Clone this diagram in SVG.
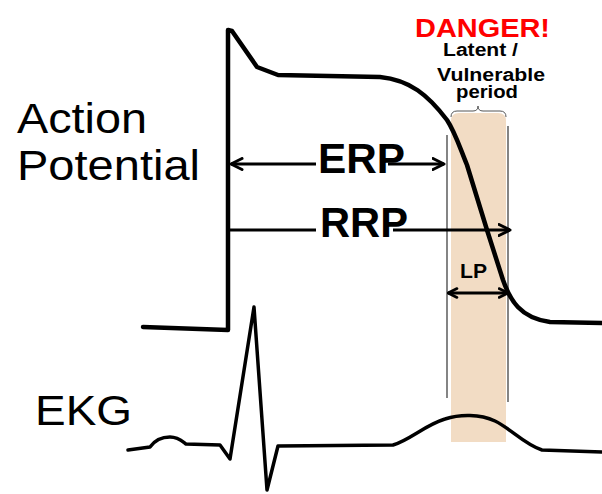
<svg xmlns="http://www.w3.org/2000/svg" width="602" height="494" viewBox="0 0 602 494">
<style>
text{font-family:"Liberation Sans",Arial,sans-serif;fill:#000}
.lbl{font-size:43px}
.big{font-size:42px;font-weight:bold}
.sm{font-size:18px;font-weight:bold}
.trace{fill:none;stroke:#000;stroke-linejoin:round;stroke-linecap:round}
.arr{fill:none;stroke:#000;stroke-width:3}
.guide{stroke:#333;stroke-width:1.2;fill:none}
</style>
<defs>
<marker id="chev" viewBox="0 0 14 14" refX="12.5" refY="7" markerWidth="14" markerHeight="14" markerUnits="userSpaceOnUse" orient="auto-start-reverse">
<path d="M1.5,1.5 L12.5,7 L1.5,12.5" fill="none" stroke="#000" stroke-width="3" stroke-linecap="round" stroke-linejoin="round"/>
</marker>
<marker id="chevs" viewBox="0 0 12 12" refX="10.5" refY="6" markerWidth="12" markerHeight="12" markerUnits="userSpaceOnUse" orient="auto-start-reverse">
<path d="M1.5,1.5 L10.5,6 L1.5,10.5" fill="none" stroke="#000" stroke-width="2.6" stroke-linecap="round" stroke-linejoin="round"/>
</marker>
</defs>
<rect width="602" height="494" fill="#fff"/>
<g id="vulnerable-band">
<path d="M451,442 L451,121 Q451,113 459,113 L498,113 Q506,113 506,121 L506,442 Z" fill="#f2dcc4"/>
<path d="M451,117 Q451,111 457,111 L473,111 Q478,111 478,106 Q478,111 483,111 L500,111 Q506,111 506,117" fill="none" stroke="#555" stroke-width="1"/>
<line class="guide" x1="447" y1="135" x2="447" y2="398"/>
<line class="guide" x1="508" y1="126" x2="508" y2="402"/>
</g>
<g id="action-potential">
<path class="trace" stroke-width="4.5" d="M143,327 L228,330 L228,30 L232,31 L257,67 L278,75 L380,77 C410,80 428,95 447,120 C455,132 460,148 467,165 L487,230 L503,280 C510,300 520,318 550,322 L602,323"/>
</g>
<g id="ekg">
<path class="trace" stroke-width="3.5" d="M128,450 L150,447 C155,440 162,437 170,437 C178,437 182,441 186,444 L220,445 L230,459 L254,307 L267,490 L278,446 L393,445 C410,440 425,425 445,419 C460,414 480,414 495,421 C510,428 525,445 542,450 L602,452"/>
</g>
<g id="connectors">
<line class="arr" x1="231" y1="164" x2="316" y2="164" marker-start="url(#chev)"/>
<line class="arr" x1="388" y1="164" x2="444" y2="164" marker-end="url(#chev)"/>
<line class="arr" stroke-width="2.6" x1="230" y1="230" x2="316" y2="230"/>
<line class="arr" stroke-width="2.6" x1="393" y1="230" x2="510" y2="230" marker-end="url(#chev)"/>
<line class="arr" stroke-width="2.6" x1="448" y1="293" x2="508" y2="293" marker-start="url(#chevs)" marker-end="url(#chevs)"/>
</g>
<g id="labels">
<text class="lbl" x="17" y="133" textLength="130" lengthAdjust="spacingAndGlyphs">Action</text>
<text class="lbl" x="17" y="180" textLength="183" lengthAdjust="spacingAndGlyphs">Potential</text>
<text class="lbl" x="35" y="425" font-size="44" textLength="97" lengthAdjust="spacingAndGlyphs">EKG</text>
</g>
<g id="erp"><text class="big" x="318" y="173" textLength="87" lengthAdjust="spacingAndGlyphs">ERP</text></g>
<g id="rrp"><text class="big" x="320" y="237" textLength="88" lengthAdjust="spacingAndGlyphs">RRP</text></g>
<g id="lp"><text x="460" y="278" font-size="20" font-weight="bold" textLength="27" lengthAdjust="spacingAndGlyphs">LP</text></g>
<g id="danger">
<text x="415" y="37" font-size="26" font-weight="bold" style="fill:#ff0000" textLength="135" lengthAdjust="spacingAndGlyphs">DANGER!</text>
<text class="sm" x="443" y="56" textLength="75" lengthAdjust="spacingAndGlyphs">Latent /</text>
<text class="sm" x="437" y="81" textLength="108" lengthAdjust="spacingAndGlyphs">Vulnerable</text>
<text class="sm" x="456" y="98" textLength="62" lengthAdjust="spacingAndGlyphs">period</text>
</g>
</svg>
